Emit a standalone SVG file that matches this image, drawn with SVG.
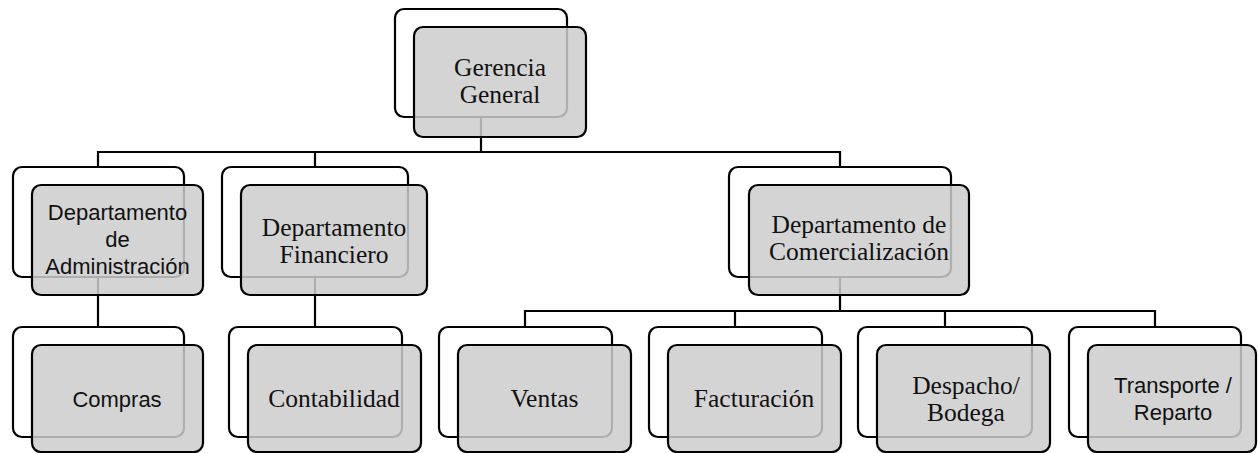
<svg xmlns="http://www.w3.org/2000/svg" width="1258" height="453" viewBox="0 0 1258 453">
<style>
.back{fill:#ffffff;stroke:#000;stroke-width:2.2}
.front{fill:#cdcdcd;fill-opacity:0.85;stroke:#000;stroke-width:2.2}
.conn{fill:none;stroke:#000;stroke-width:2.2}
.serif{font-family:"Liberation Serif","Times New Roman",serif;font-size:25.5px;fill:#111;text-anchor:middle}
.sans{font-family:"Liberation Sans",Arial,sans-serif;font-size:22px;fill:#111;text-anchor:middle}
</style>
<rect width="1258" height="453" fill="#ffffff"/>
<g id="connectors">
<path class="conn" d="M481,117 V152 M98,167 V152 H840 V167 M315,152 V167"/>
<path class="conn" d="M98,277 V327"/>
<path class="conn" d="M315,277 V327"/>
<path class="conn" d="M840,277 V311 M525,327 V311 H1155 V327 M735,311 V327 M945,311 V327"/>
</g>
<g id="gerencia">
<rect class="back" x="395" y="9" width="172" height="108" rx="9"/>
<rect class="front" x="414" y="27" width="172" height="110" rx="9"/>
<text class="serif" x="500" y="76">Gerencia</text>
<text class="serif" x="500" y="103">General</text>
</g>
<g id="administracion">
<rect class="back" x="13" y="167" width="171" height="110" rx="9"/>
<rect class="front" x="32" y="185" width="171" height="110" rx="9"/>
<text class="sans" x="117.5" y="220">Departamento</text>
<text class="sans" x="117.5" y="247">de</text>
<text class="sans" x="117.5" y="274">Administración</text>
</g>
<g id="financiero">
<rect class="back" x="222" y="167" width="186" height="110" rx="9"/>
<rect class="front" x="241" y="185" width="186" height="110" rx="9"/>
<text class="serif" x="334" y="236">Departamento</text>
<text class="serif" x="334" y="263">Financiero</text>
</g>
<g id="comercializacion">
<rect class="back" x="729" y="167" width="222" height="110" rx="9"/>
<rect class="front" x="749" y="185" width="220" height="110" rx="9"/>
<text class="serif" x="859" y="233">Departamento de</text>
<text class="serif" x="859" y="260">Comercialización</text>
</g>
<g id="compras">
<rect class="back" x="13" y="327" width="171" height="110" rx="9"/>
<rect class="front" x="32" y="345" width="171" height="107" rx="9"/>
<text class="sans" x="117" y="407">Compras</text>
</g>
<g id="contabilidad">
<rect class="back" x="229" y="327" width="173" height="110" rx="9"/>
<rect class="front" x="248" y="345" width="173" height="107" rx="9"/>
<text class="serif" x="334" y="407">Contabilidad</text>
</g>
<g id="ventas">
<rect class="back" x="439" y="327" width="173" height="110" rx="9"/>
<rect class="front" x="458" y="345" width="173" height="107" rx="9"/>
<text class="serif" x="544.5" y="407">Ventas</text>
</g>
<g id="facturacion">
<rect class="back" x="649" y="327" width="173" height="110" rx="9"/>
<rect class="front" x="668" y="345" width="173" height="107" rx="9"/>
<text class="serif" x="754" y="407">Facturación</text>
</g>
<g id="despacho">
<rect class="back" x="858" y="327" width="174" height="110" rx="9"/>
<rect class="front" x="877" y="345" width="173" height="107" rx="9"/>
<text class="serif" x="966" y="394">Despacho/</text>
<text class="serif" x="966" y="421">Bodega</text>
</g>
<g id="transporte">
<rect class="back" x="1069" y="327" width="172" height="110" rx="9"/>
<rect class="front" x="1088" y="345" width="168" height="107" rx="9"/>
<text class="sans" x="1173" y="393">Transporte /</text>
<text class="sans" x="1173" y="420">Reparto</text>
</g>
</svg>
